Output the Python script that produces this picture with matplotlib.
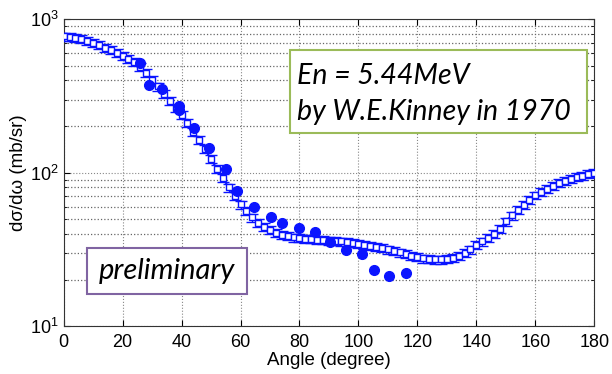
import matplotlib
matplotlib.use("Agg")
import matplotlib.pyplot as plt
from matplotlib.patches import Rectangle

# calculation (squares with error bars), every 2 degrees
calc_angle = list(range(0, 181, 2))
calc_xs = [775, 772, 760, 745, 725, 700, 680, 655, 630, 605,
           580, 555, 525, 490, 450, 405, 365, 328, 295, 265,
           238, 210, 185, 163, 142, 122, 106, 92, 80, 70,
           62, 56, 51, 47, 44, 42, 40.5, 39.3, 38.4, 37.7,
           37.2, 36.9, 36.7, 36.5, 36.2, 36.0, 35.8, 35.5, 35.1, 34.7,
           34.3, 33.8, 33.3, 32.7, 32.1, 31.5, 30.8, 30.1, 29.4, 28.7,
           28.0, 27.5, 27.2, 27.1, 27.1, 27.4, 27.9, 28.7, 29.8, 31.5,
           33.6, 35.5, 37.5, 40.0, 43.0, 48.0, 52.5, 57.0, 61.5, 66.0,
           71.0, 75.0, 78.5, 82.0, 85.5, 88.5, 91.0, 93.5, 95.5, 97.5,
           99.0]
calc_err = 0.06  # relative

# Kinney 1970 measurement
exp_angle = [25.9, 29.0, 33.3, 39.0, 39.0, 44.2, 49.2, 55.1, 58.9, 64.6,
             70.3, 74.2, 79.9, 85.3, 90.3, 95.8, 101.1, 105.3, 110.5, 116.0]
exp_xs = [520, 373, 350, 272, 255, 195, 144, 105, 76, 60,
          51.5, 47, 43.8, 41, 35.3, 31.3, 29.2, 23.1, 21.1, 22.1]

plt.rcParams['font.family'] = ['Liberation Sans', 'DejaVu Sans']
plt.rcParams['mathtext.fontset'] = 'custom'
plt.rcParams['mathtext.rm'] = 'Liberation Sans'
plt.rcParams['mathtext.it'] = 'Liberation Sans:italic'

fig = plt.figure(figsize=(6.12, 3.74), dpi=100)
ax = fig.add_axes([0.104, 0.129, 0.867, 0.819])

ax.errorbar(calc_angle, calc_xs, yerr=[v * calc_err for v in calc_xs],
            color='#0a14ff', lw=1.4, marker='s', ms=4.5, mfc='white',
            mec='#0a14ff', mew=1.0, capsize=4, elinewidth=1.0, zorder=3)
ax.plot(exp_angle, exp_xs, 'o', color='#0a14ff', ms=7, zorder=4)

ax.set_yscale('log')
ax.set_xlim(0, 180)
ax.set_ylim(10, 1000)
ax.set_xticks(range(0, 181, 20))
ax.grid(True, which='major', ls=':', color='#888888', lw=0.8)
ax.grid(True, which='minor', axis='y', ls=':', color='#666666', lw=0.9)
ax.tick_params(which='both', direction='in', top=True, right=True,
               labelsize=13, length=4)
ax.tick_params(axis='x', pad=6)
ax.tick_params(which='minor', length=2.5)
for s in ax.spines.values():
    s.set_color('#333333')
ax.set_xlabel('Angle (degree)', fontsize=13.5, labelpad=1)
ax.set_ylabel('dσ/dω (mb/sr)', fontsize=13.5, labelpad=2)

# annotation boxes
fig.patches.append(Rectangle((290 / 612, 1 - 133 / 374), 297 / 612, 83 / 374,
                             transform=fig.transFigure, facecolor='white',
                             edgecolor='#9bbb59', lw=1.5, zorder=5))
fig.text(297 / 612, 1 - 76 / 374, 'En = 5.44MeV', family='Lato', style='italic',
         fontsize=20.5, va='center', ha='left', zorder=6)
fig.text(297 / 612, 1 - 112 / 374, 'by W.E.Kinney in 1970', family='Lato',
         style='italic', fontsize=20.5, va='center', ha='left', zorder=6)

fig.patches.append(Rectangle((87 / 612, 1 - 294 / 374), 160 / 612, 46 / 374,
                             transform=fig.transFigure, facecolor='white',
                             edgecolor='#8064a2', lw=1.5, zorder=5))
fig.text(167 / 612, 1 - 271 / 374, 'preliminary', family='Lato', style='italic',
         fontsize=21, va='center', ha='center', zorder=6)

fig.savefig('out.png', dpi=100)
